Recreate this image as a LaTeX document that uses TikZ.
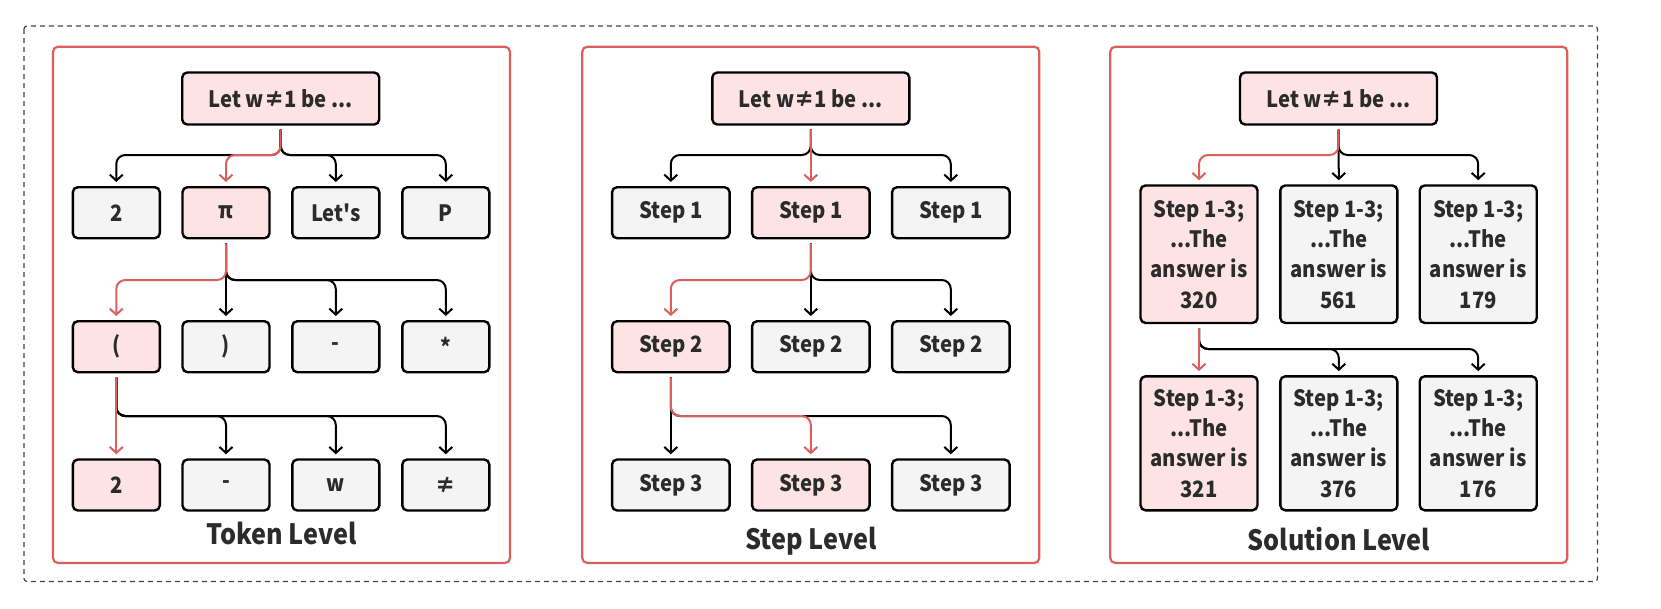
\documentclass[tikz,border=0pt]{standalone}
\usepackage{fontspec}
\newfontfamily\mf{Noto Sans CJK SC}[FakeStretch=0.9]
\usetikzlibrary{arrows.meta}
\definecolor{pinkf}{HTML}{FDE3E3}
\definecolor{grayf}{HTML}{F4F4F4}
\definecolor{redl}{HTML}{D9605E}
\definecolor{txt}{HTML}{2B2B2B}
\definecolor{dashc}{HTML}{444444}
\newcommand\lnk[4][black]{\draw[conn,draw=#1] ([yshift=-4pt]#2.south) -- (#2.south |- #4) -| ([yshift=4pt]#3.north);}
\newcommand\lnkv[3][black]{\draw[conn,draw=#1] ([yshift=-4pt]#2.south) -- ([yshift=4pt]#3.north);}
\begin{document}
\begin{tikzpicture}[x=1pt,y=-1pt,
  box/.style={draw=black, line width=2.4pt, rounded corners=5pt, fill=grayf, text=txt,
    font=\mf\bfseries\fontsize{22.5}{30.3}\selectfont, inner sep=0pt, align=center},
  hi/.style={box, fill=pinkf},
  rootsz/.style={minimum width=197pt, minimum height=52pt},
  toksz/.style={minimum width=87pt, minimum height=51pt},
  stepsz/.style={minimum width=117.5pt, minimum height=51pt},
  sol1sz/.style={minimum width=117pt, minimum height=137.5pt},
  sol2sz/.style={minimum width=117pt, minimum height=134pt},
  conn/.style={line width=2pt, -{Straight Barb[length=6pt,width=13pt]}, rounded corners=9pt},
  panel/.style={draw=redl, line width=2.2pt, rounded corners=5pt},
  title/.style={anchor=base, text=txt, font=\mf\bfseries\fontsize{28}{33}\selectfont},
]
\useasboundingbox (0,0) rectangle (1661,608);
\draw[dashc, line width=1.2pt, dash pattern=on 5pt off 4pt, rounded corners=3pt] (24,26) rectangle (1597.5,581.5);
\draw[panel] (53,46.7) rectangle (510,563);
\draw[panel] (582.3,46.7) rectangle (1039.3,563);
\draw[panel] (1110.3,46.7) rectangle (1567.3,563);

% horizontal levels
\coordinate (hA) at (0,155);
\coordinate (hB) at (0,280);
\coordinate (hC) at (0,416);
\coordinate (hD) at (0,349);

% ---------- Token level
\node[hi, rootsz] (tr) at (280.7,98.5) {Let w≠1 be ...};
\node[box, toksz] (t11) at (116.3,212.7) {2};
\node[hi,  toksz] (t12) at (226,212.7) {π};
\node[box, toksz] (t13) at (335.8,212.7) {Let's};
\node[box, toksz] (t14) at (445.8,212.7) {P};
\node[hi,  toksz] (t21) at (116.3,346.7) {(};
\node[box, toksz] (t22) at (226,346.7) {)};
\node[box, toksz] (t23) at (335.8,346.7) {-};
\node[box, toksz] (t24) at (445.8,346.7) {*};
\node[hi,  toksz] (t31) at (116.3,485) {2};
\node[box, toksz] (t32) at (226,485) {-};
\node[box, toksz] (t33) at (335.8,485) {w};
\node[box, toksz] (t34) at (445.8,485) {≠};
\node[title] (tt) at (281.7,544.3) {Token Level};

\lnk{tr}{t11}{hA}
\lnk{tr}{t13}{hA}
\lnk{tr}{t14}{hA}
\lnk[redl]{tr}{t12}{hA}
\lnkv{t12}{t22}
\lnk{t12}{t23}{hB}
\lnk{t12}{t24}{hB}
\lnk[redl]{t12}{t21}{hB}
\lnk{t21}{t32}{hC}
\lnk{t21}{t33}{hC}
\lnk{t21}{t34}{hC}
\lnkv[redl]{t21}{t31}

% ---------- Step level
\node[hi, rootsz] (sr) at (810.8,98.5) {Let w≠1 be ...};
\node[box, stepsz] (s11) at (670.8,212.7) {Step 1};
\node[hi,  stepsz] (s12) at (810.8,212.7) {Step 1};
\node[box, stepsz] (s13) at (950.8,212.7) {Step 1};
\node[hi,  stepsz] (s21) at (670.8,346.7) {Step 2};
\node[box, stepsz] (s22) at (810.8,346.7) {Step 2};
\node[box, stepsz] (s23) at (950.8,346.7) {Step 2};
\node[box, stepsz] (s31) at (670.8,485) {Step 3};
\node[hi,  stepsz] (s32) at (810.8,485) {Step 3};
\node[box, stepsz] (s33) at (950.8,485) {Step 3};
\node[title] (st) at (810.8,549.5) {Step Level};

\lnk{sr}{s11}{hA}
\lnk{sr}{s13}{hA}
\lnkv[redl]{sr}{s12}
\lnkv{s12}{s22}
\lnk{s12}{s23}{hB}
\lnk[redl]{s12}{s21}{hB}
\lnkv{s21}{s31}
\lnk{s21}{s33}{hC}
\lnk[redl]{s21}{s32}{hC}

% ---------- Solution level
\node[hi, rootsz] (vr) at (1338.5,98.5) {Let w≠1 be ...};
\node[hi,  sol1sz] (v11) at (1199,254.2) {Step 1-3;\\...The\\answer is\\320};
\node[box, sol1sz] (v12) at (1338.8,254.2) {Step 1-3;\\...The\\answer is\\561};
\node[box, sol1sz] (v13) at (1478.2,254.2) {Step 1-3;\\...The\\answer is\\179};
\node[hi,  sol2sz] (v21) at (1199,443.3) {Step 1-3;\\...The\\answer is\\321};
\node[box, sol2sz] (v22) at (1338.8,443.3) {Step 1-3;\\...The\\answer is\\376};
\node[box, sol2sz] (v23) at (1478.2,443.3) {Step 1-3;\\...The\\answer is\\176};
\node[title] (vt) at (1339,550) {Solution Level};

\lnkv{vr}{v12}
\lnk{vr}{v13}{hA}
\lnk[redl]{vr}{v11}{hA}
\lnk{v11}{v22}{hD}
\lnk{v11}{v23}{hD}
\lnkv[redl]{v11}{v21}
\end{tikzpicture}
\end{document}
